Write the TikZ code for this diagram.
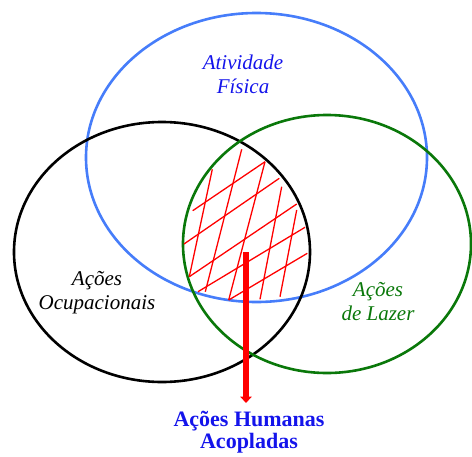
\documentclass[tikz,border=0pt]{standalone}
\usepackage{fontspec}
\setmainfont{Liberation Serif}
\usetikzlibrary{arrows.meta}
\definecolor{ringblue}{RGB}{70,125,250}
\definecolor{ringgreen}{RGB}{10,120,10}
\definecolor{txtblue}{RGB}{20,20,235}
\tikzset{
  ring/.style={line width=2.6pt},
  hatch/.style={red, line width=1.3pt},
  lbl/.style={align=center, font=\fontsize{21}{24}\selectfont\itshape, inner sep=0pt},
  outlbl/.style={align=center, font=\fontsize{22}{22}\selectfont\bfseries, inner sep=0pt, text=txtblue}
}
\begin{document}
\begin{tikzpicture}[x=1pt,y=-1pt]
\useasboundingbox (0,0) rectangle (472,456);
% rings
\draw[ring, ringblue] (256.5,157.5) ellipse [x radius=170.5pt, y radius=144.5pt];
\draw[ring, black] (162,252) ellipse [x radius=148pt, y radius=130pt];
\draw[ring, ringgreen] (327,244) ellipse [x radius=144pt, y radius=129pt];
% hatching (steep)
\draw[hatch] (212.3,169.3) -- (189.3,276.7);
\draw[hatch] (241.7,149.3) -- (205.3,291.7);
\draw[hatch] (265,161.7) -- (228.7,300);
\draw[hatch] (281.7,186.7) -- (260,299.3);
\draw[hatch] (296.7,210) -- (280,296.7);
% hatching (shallow)
\draw[hatch] (192.7,210.7) -- (265,161.7);
\draw[hatch] (184,244) -- (279.3,178.3);
\draw[hatch] (189.3,276.7) -- (296.7,204);
\draw[hatch] (198,291.7) -- (305,227.3);
\draw[hatch] (228.7,300) -- (307.3,253.3);
% labels
\node[lbl, text=txtblue] (af) at (243,74) {Atividade\\Física};
\node[lbl, text=black] (ao) at (97,293) {Ações\\Ocupacionais};
\node[lbl, text=ringgreen] (al) at (378,302) {Ações\\de Lazer};
\node[outlbl, anchor=north] (ah) at (249,411) {Ações Humanas\\Acopladas};
% arrow
\coordinate (src) at (246,252);
\draw[red, line width=5.5pt, shorten >=8pt, -{Triangle[width=11.5pt,length=6.5pt]}] (src) -- (src |- ah.north);
\end{tikzpicture}
\end{document}
